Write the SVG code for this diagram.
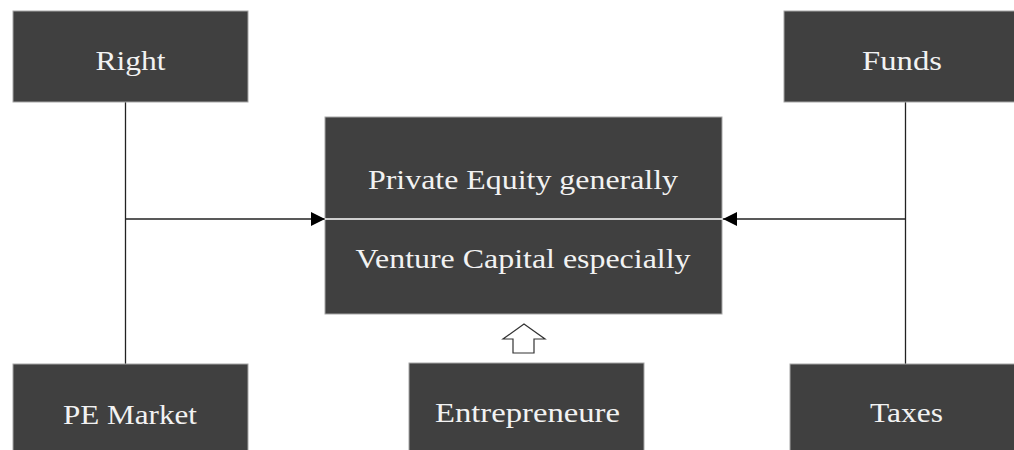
<svg xmlns="http://www.w3.org/2000/svg" width="1014" height="450" viewBox="0 0 1014 450">
  <defs>
    <style>
      .box { fill: #404040; stroke: #a6a6a6; stroke-width: 1; }
      .lbl { font-family: "Liberation Serif", "DejaVu Serif", serif; font-size: 28px; fill: #f2f2f2; text-anchor: middle; }
      .conn { stroke: #222222; stroke-width: 1.3; fill: none; }
    </style>
    <marker id="tri" viewBox="0 0 10 10" refX="10" refY="5" markerWidth="14" markerHeight="15" markerUnits="userSpaceOnUse" orient="auto">
      <path d="M0,0 L10,5 L0,10 Z" fill="#000000"/>
    </marker>
  </defs>
  <rect width="1014" height="450" fill="#ffffff"/>

  <g id="connectors">
    <line class="conn" x1="125.5" y1="102" x2="125.5" y2="364"/>
    <line class="conn" x1="905.5" y1="90" x2="905.5" y2="364"/>
    <line class="conn" x1="125.5" y1="219" x2="325" y2="219" marker-end="url(#tri)"/>
    <line class="conn" x1="905.5" y1="219" x2="723" y2="219" marker-end="url(#tri)"/>
    <polygon points="524,324 545,339 534,339 534,353 513,353 513,339 503,339" fill="#ffffff" stroke="#333333" stroke-width="1.2" stroke-linejoin="miter"/>
  </g>

  <g id="node-right">
    <rect class="box" x="13" y="11" width="235" height="91"/>
    <text class="lbl" x="130.5" y="70" textLength="70" lengthAdjust="spacingAndGlyphs">Right</text>
  </g>
  <g id="node-funds">
    <rect class="box" x="784" y="11" width="240" height="91"/>
    <text class="lbl" x="902" y="70" textLength="80" lengthAdjust="spacingAndGlyphs">Funds</text>
  </g>
  <g id="node-center">
    <rect class="box" x="325" y="117" width="397" height="197"/>
    <line x1="325" y1="219" x2="722" y2="219" stroke="#ffffff" stroke-width="1.5"/>
    <text class="lbl" x="523" y="189" textLength="310" lengthAdjust="spacingAndGlyphs">Private Equity generally</text>
    <text class="lbl" x="523" y="268" textLength="335" lengthAdjust="spacingAndGlyphs">Venture Capital especially</text>
  </g>
  <g id="node-pe-market">
    <rect class="box" x="13" y="364" width="235" height="96"/>
    <text class="lbl" x="130" y="424" textLength="134" lengthAdjust="spacingAndGlyphs">PE Market</text>
  </g>
  <g id="node-entrepreneure">
    <rect class="box" x="409" y="363" width="235" height="97"/>
    <text class="lbl" x="527.5" y="422" textLength="185" lengthAdjust="spacingAndGlyphs">Entrepreneure</text>
  </g>
  <g id="node-taxes">
    <rect class="box" x="790" y="364" width="234" height="96"/>
    <text class="lbl" x="906.5" y="422" textLength="73" lengthAdjust="spacingAndGlyphs">Taxes</text>
  </g>
</svg>
